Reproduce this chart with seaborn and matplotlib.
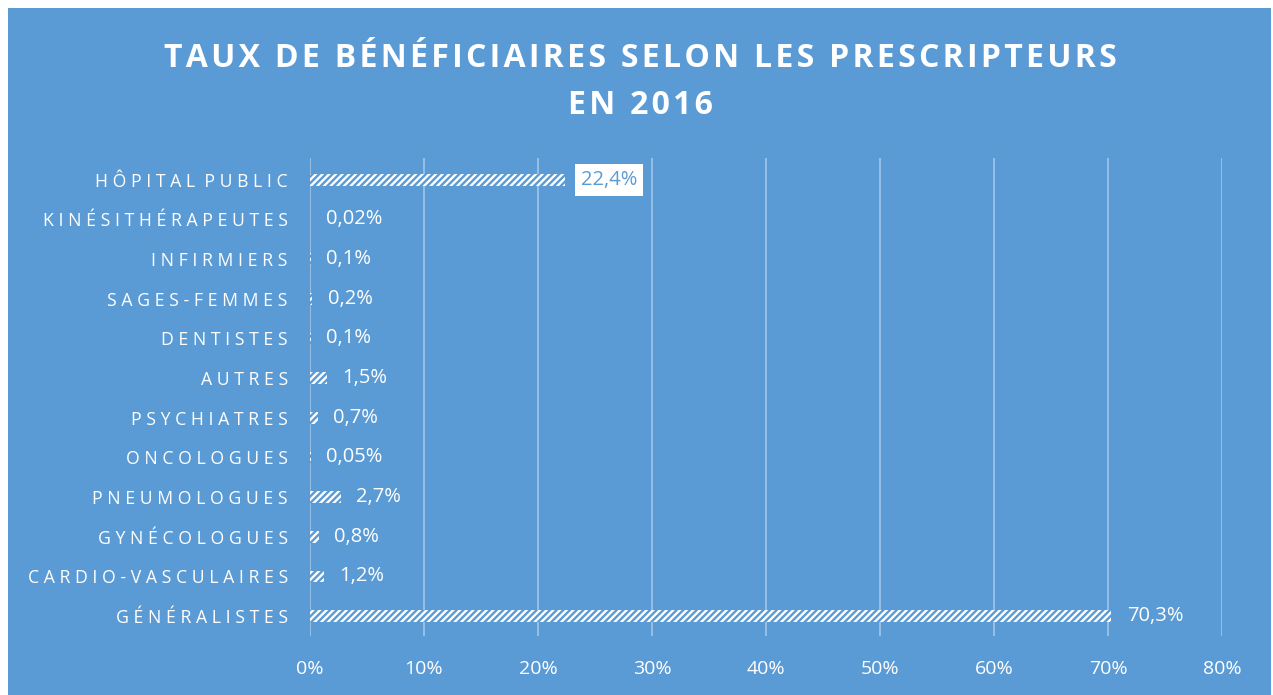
import matplotlib.pyplot as plt
import matplotlib.patches as mpatches
import seaborn as sns
import pandas as pd

blue = "#5B9BD5"
grid_col = "#A3C6E8"

# Data
categories = [
    "HÔPITAL PUBLIC", "KINÉSITHÉRAPEUTES", "INFIRMIERS", "SAGES-FEMMES",
    "DENTISTES", "AUTRES", "PSYCHIATRES", "ONCOLOGUES", "PNEUMOLOGUES",
    "GYNÉCOLOGUES", "CARDIO-VASCULAIRES", "GÉNÉRALISTES",
]
values = [22.4, 0.02, 0.1, 0.2, 0.1, 1.5, 0.7, 0.05, 2.7, 0.8, 1.2, 70.3]
value_labels = ["22,4%", "0,02%", "0,1%", "0,2%", "0,1%", "1,5%", "0,7%",
                "0,05%", "2,7%", "0,8%", "1,2%", "70,3%"]
x_ticks = [0, 10, 20, 30, 40, 50, 60, 70, 80]
title_lines = ["TAUX DE BÉNÉFICIAIRES SELON LES PRESCRIPTEURS", "EN 2016"]

HAIR = "\u200a"


def spaced(s):
    return "  ".join(" ".join(w) for w in s.split(" "))


def tracked(s):
    return HAIR.join(s)


df = pd.DataFrame({"cat": categories, "val": values})

sns.set_style("white")
plt.rcParams["font.family"] = ["Open Sans", "DejaVu Sans"]
plt.rcParams["hatch.linewidth"] = 1.7

fig = plt.figure(figsize=(12.73, 6.95), dpi=100, facecolor="white")
fig.patches.append(mpatches.Rectangle((8 / 1273, 0), 1263 / 1273, 687 / 695,
                                      transform=fig.transFigure, facecolor=blue,
                                      edgecolor="none", zorder=-1))
ax = fig.add_axes([310 / 1273, 1 - 636 / 695, 912 / 1273, 478 / 695])
ax.set_facecolor("none")

sns.barplot(data=df, x="val", y="cat", orient="h", ax=ax, width=0.3,
            color="white", saturation=1)
for bar in ax.patches:
    bar.set_facecolor("white")
    bar.set_edgecolor(blue)
    bar.set_linewidth(0)
    bar.set_hatch("/////")
    bar.set_zorder(3)

ax.set_xlim(0, 80)
ax.set_ylim(len(categories) - 0.5, -0.55)
ax.set_xticks(x_ticks)
ax.set_xticklabels([f"{t}%" for t in x_ticks], color="white", fontsize=14)
ax.set_yticks(range(len(categories)))
ax.set_yticklabels([spaced(c) for c in categories], color="white", fontsize=12.7)
ax.tick_params(axis="x", length=0, pad=17)
ax.tick_params(axis="y", length=0, pad=16)
ax.set_xlabel("")
ax.set_ylabel("")
for s in ax.spines.values():
    s.set_visible(False)
ax.xaxis.grid(True, color=grid_col, linewidth=1.2, zorder=1)
ax.set_axisbelow(True)

for i, (v, lab) in enumerate(zip(values, value_labels)):
    if i == 0:
        ax.annotate(lab, (v, i), xytext=(11, 0), textcoords="offset points",
                    ha="left", va="center", color=blue, fontsize=14.5,
                    bbox=dict(boxstyle="square,pad=0.3", fc="white", ec="none"))
    else:
        ax.annotate(lab, (v, i), xytext=(11, 0), textcoords="offset points",
                    ha="left", va="center", color="white", fontsize=14.5)

fig.text(0.503, 1 - 82 / 695, "\n".join(tracked(t) for t in title_lines),
         ha="center", va="center", color="white",
         fontsize=23, fontweight="bold", linespacing=1.55)

fig.savefig("out.png", dpi=100, facecolor="white")
